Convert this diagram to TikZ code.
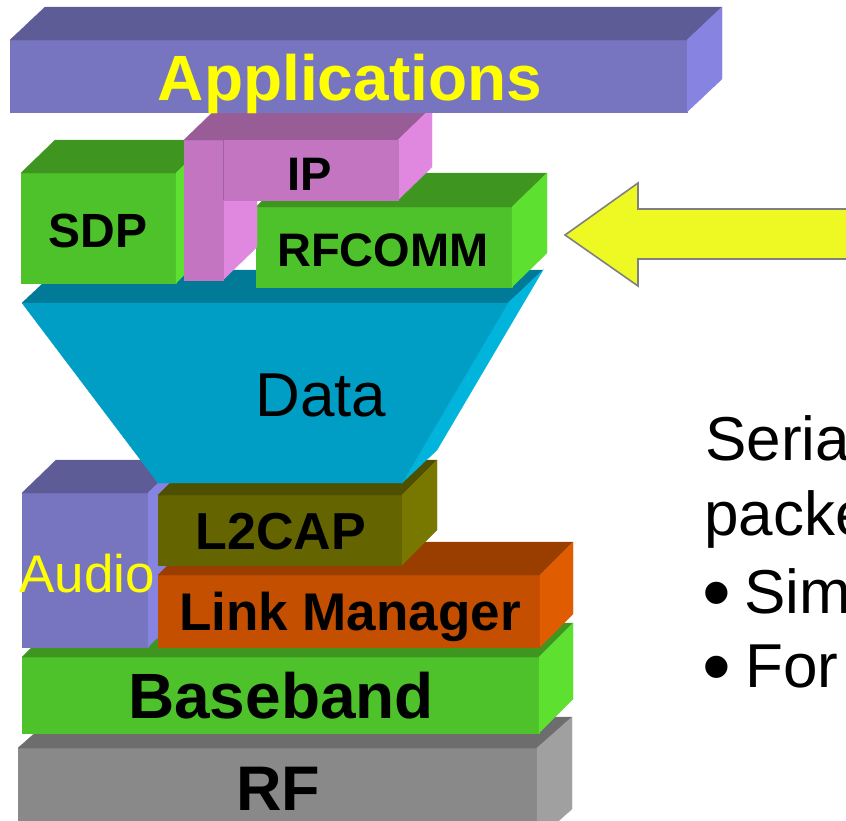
\documentclass[tikz,border=0pt]{standalone}
\usepackage{fontspec}
\setmainfont{Liberation Sans}

% face colours: F = front, T = top, R = right side
\definecolor{appF}{HTML}{7775C0}\definecolor{appT}{HTML}{5E5C96}\definecolor{appR}{HTML}{8684E0}
\definecolor{grnF}{HTML}{4EC22A}\definecolor{grnT}{HTML}{3E9620}\definecolor{grnR}{HTML}{5EE030}
\definecolor{pnkF}{HTML}{C475C1}\definecolor{pnkT}{HTML}{985C96}\definecolor{pnkR}{HTML}{E088E0}
\definecolor{dtaF}{HTML}{009EC5}\definecolor{dtaT}{HTML}{017A98}\definecolor{dtaR}{HTML}{00B4DC}
\definecolor{olvF}{HTML}{646400}\definecolor{olvT}{HTML}{4F4F00}\definecolor{olvR}{HTML}{787800}
\definecolor{orgF}{HTML}{C54F00}\definecolor{orgT}{HTML}{9A3E00}\definecolor{orgR}{HTML}{E05C00}
\definecolor{gryF}{HTML}{898989}\definecolor{gryT}{HTML}{6D6D6D}\definecolor{gryR}{HTML}{A0A0A0}
\definecolor{arrowfill}{HTML}{EEF923}
\definecolor{arrowline}{HTML}{808080}
\definecolor{lblyellow}{HTML}{FFFF00}

% extruded slab: front corners (x1,y1)-(x2,y2), depth (dx,dy), colour prefix
\newcommand{\slab}[7]{%
  \filldraw[fill=#7F,draw=#7F,line width=0.3pt] (#1,#2) rectangle (#3,#4);
  \filldraw[fill=#7T,draw=#7T,line width=0.3pt] (#1,#2) -- ++(#5,-#6) -- ++(#3-#1,0) -- (#3,#2) -- cycle;
  \filldraw[fill=#7R,draw=#7R,line width=0.3pt] (#3,#2) -- ++(#5,-#6) -- ++(0,#4-#2) -- (#3,#4) -- cycle;
}

\tikzset{
  layer/.style={anchor=base, inner sep=0pt, font=\bfseries\fontsize{#1}{#1}\selectfont},
  plain/.style={anchor=base, inner sep=0pt, font=\fontsize{#1}{#1}\selectfont},
  bodytext/.style={anchor=base west, inner sep=0pt, font=\fontsize{62}{62}\selectfont},
  bulletmark/.style={anchor=base west, inner sep=0pt, font=\fontsize{82}{82}\selectfont},
  face/.style={line width=0.3pt}
}

\begin{document}
\begin{tikzpicture}[x=1pt,y=-1pt]
\useasboundingbox (0,0) rectangle (846,820);
\clip (0,0) rectangle (846,820);

% lower stack
\slab{18}{748}{537}{840}{35}{31}{gry}
\slab{22}{657}{539}{733}{34}{34}{grn}
\slab{22}{493}{148}{647}{34}{33}{app}
\slab{158}{575}{540}{647}{33}{33}{org}
\slab{158}{495}{402}{565}{35}{35}{olv}

% data funnel
\filldraw[face,fill=dtaT,draw=dtaT] (22,303) -- (57,270) -- (543,270) -- (508,303) -- cycle;
\filldraw[face,fill=dtaR,draw=dtaR] (508,303) -- (543,270) -- (437,450) -- (402,483) -- cycle;
\filldraw[face,fill=dtaF,draw=dtaF] (22,303) -- (508,303) -- (402,483) -- (158,483) -- cycle;

% upper protocols
\slab{21}{173}{176}{283}{34}{33}{grn}
\slab{256}{207}{512}{287}{35}{34}{grn}

% IP: L-shaped block
\filldraw[face,fill=pnkR,draw=pnkR] (223,140) -- (257,107) -- (257,247) -- (223,280) -- cycle;
\filldraw[face,fill=pnkF,draw=pnkF] (184,140) rectangle (223,280);
\filldraw[face,fill=pnkT,draw=pnkT] (184,140) -- (218,107) -- (432,107) -- (398,140) -- cycle;
\filldraw[face,fill=pnkR,draw=pnkR] (398,140) -- (432,107) -- (432,167) -- (398,200) -- cycle;
\filldraw[face,fill=pnkF,draw=pnkF] (223,140) rectangle (398,200);
\draw[pnkT!80!pnkF,line width=0.8pt] (223,140) -- (223,200);

% applications bar
\slab{10}{40}{687}{112}{35}{33}{app}

% block arrow towards RFCOMM
\filldraw[fill=arrowfill,draw=arrowline,line width=1.6pt,line join=miter]
  (565,235) -- (638,183) -- (638,209) -- (860,209) -- (860,259) -- (638,259) -- (638,286) -- cycle;

% labels
\node[layer=64,text=lblyellow] (apps) at (350,100) {Applications};
\node[layer=47] (ip) at (310,190) {IP};
\node[layer=48] (sdp) at (98,247) {SDP};
\node[layer=47] (rfcomm) at (383,266) {RFCOMM};
\node[plain=62] (data) at (321,416) {Data};
\node[layer=52] (l2cap) at (281,549) {L2CAP};
\node[anchor=base west,inner sep=0pt,font=\fontsize{53}{53}\selectfont,text=lblyellow] (audio) at (19,592) {Audio};
\node[layer=53] (lmp) at (350,630) {Link Manager};
\node[layer=64] (bb) at (281,718) {Baseband};
\node[layer=63] (rf) at (278,810) {RF};

% side notes
\node[bodytext] (t1) at (705,460) {Seria};
\node[bodytext] (t2) at (704,535) {packe};
\node[bulletmark] (b1) at (702,620) {•};
\node[bodytext] (t3) at (744,613) {Sim};
\node[bulletmark] (b2) at (702,694) {•};
\node[bodytext] (t4) at (745,687) {For};
\end{tikzpicture}
\end{document}
